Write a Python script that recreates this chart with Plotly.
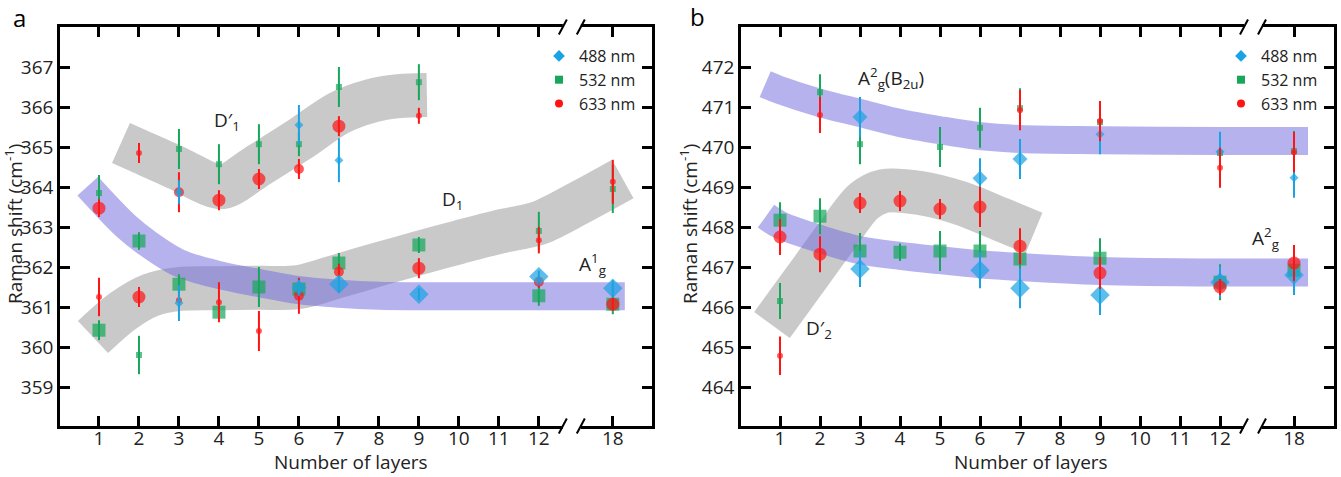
import plotly.graph_objects as go

# ---------------- data ----------------
# x positions of the broken axis: layers 1..12 sit at their own value, 18 sits after the break
layer_ticks = [1, 2, 3, 4, 5, 6, 7, 8, 9, 10, 11, 12, 18]
layer_tick_text = [str(v) for v in layer_ticks]
BROKEN_POS = {18: 13.85}

# Panel a  (modes ~360 cm-1)
a488_layers = [3, 3, 6, 6, 7, 7, 9, 12, 18]
a488_shift = [363.87, 361.10, 365.55, 361.48, 364.67, 361.57, 361.32, 361.76, 361.47]
a488_err = [0.30, 0.45, 0.50, 0.20, 0.55, 0.20, 0.15, 0.15, 0.20]
a488_weight = ["S", "S", "S", "M", "S", "L", "L", "L", "L"]

a532_layers = [1, 1, 2, 2, 3, 3, 4, 4, 5, 5, 6, 6, 7, 7, 9, 9, 12, 12, 18, 18]
a532_shift = [363.85, 360.42, 362.65, 359.80, 364.95, 361.57, 364.57, 360.87, 365.07, 361.50,
              365.07, 361.45, 366.50, 362.10, 366.62, 362.55, 362.90, 361.28, 363.95, 361.07]
a532_err = [0.45, 0.25, 0.22, 0.48, 0.50, 0.25, 0.50, 0.20, 0.50, 0.50,
            0.30, 0.25, 0.50, 0.25, 0.45, 0.20, 0.48, 0.25, 0.60, 0.25]
a532_weight = ["S", "L", "L", "S", "S", "L", "S", "L", "S", "L",
               "S", "L", "S", "L", "S", "L", "S", "L", "S", "L"]

a633_layers = [1, 1, 2, 2, 3, 3, 4, 4, 5, 5, 6, 6, 7, 7, 9, 9, 12, 12, 18, 18]
a633_shift = [363.47, 361.25, 364.85, 361.25, 363.87, 361.17, 363.67, 361.12, 364.20, 360.40,
              364.45, 361.28, 365.52, 361.88, 365.78, 361.97, 362.67, 361.63, 364.13, 361.07]
a633_err = [0.22, 0.48, 0.25, 0.25, 0.50, 0.20, 0.25, 0.50, 0.25, 0.50,
            0.25, 0.45, 0.25, 0.20, 0.20, 0.25, 0.33, 0.15, 0.55, 0.15]
a633_weight = ["L", "S", "S", "L", "M", "S", "L", "S", "L", "S",
               "M", "M", "L", "M", "S", "L", "S", "M", "S", "L"]

# Panel b  (modes ~467 cm-1)
b488_layers = [3, 3, 6, 6, 7, 7, 9, 9, 12, 12, 18, 18]
b488_shift = [470.75, 466.95, 469.22, 466.92, 469.70, 466.47, 470.32, 466.30, 469.88, 466.62, 469.23, 466.80]
b488_err = [0.50, 0.45, 0.50, 0.45, 0.50, 0.50, 0.50, 0.50, 0.50, 0.40, 0.50, 0.50]
b488_weight = ["M", "L", "M", "L", "M", "L", "S", "L", "S", "L", "S", "L"]

b532_layers = [1, 1, 2, 2, 3, 3, 4, 5, 5, 6, 6, 7, 7, 9, 9, 12, 12, 18, 18]
b532_shift = [468.17, 466.15, 471.37, 468.27, 470.07, 467.40, 467.37, 470.00, 467.40, 470.48,
              467.40, 470.97, 467.20, 470.62, 467.22, 469.85, 466.62, 469.90, 466.92]
b532_err = [0.45, 0.45, 0.45, 0.45, 0.50, 0.45, 0.22, 0.50, 0.50, 0.50,
            0.50, 0.50, 0.50, 0.50, 0.50, 0.50, 0.45, 0.50, 0.50]
b532_weight = ["L", "S", "S", "L", "S", "L", "L", "S", "L", "S",
               "L", "S", "L", "S", "L", "S", "L", "S", "L"]

b633_layers = [1, 1, 2, 2, 3, 4, 5, 6, 7, 7, 9, 9, 12, 12, 18, 18]
b633_shift = [467.75, 464.78, 470.80, 467.32, 468.60, 468.65, 468.45, 468.50,
              470.92, 467.52, 470.65, 466.85, 469.48, 466.50, 469.87, 467.10]
b633_err = [0.45, 0.48, 0.45, 0.45, 0.25, 0.25, 0.25, 0.50,
            0.50, 0.45, 0.50, 0.40, 0.50, 0.20, 0.50, 0.45]
b633_weight = ["L", "S", "S", "L", "L", "L", "L", "L",
               "S", "L", "S", "L", "S", "L", "S", "L"]

# guide bands (hand-drawn trend curves), x in axis positions
bandA_A1g_x = [0.72, 1.2, 1.7, 2.2, 3, 4, 5, 6, 7, 8, 9, 14.15]
bandA_A1g_y = [364.02, 363.5, 363.0, 362.6, 362.1, 361.8, 361.6, 361.42, 361.33, 361.28, 361.27, 361.27]
bandA_D1_x = [0.85, 1.6, 2.3, 3, 4, 5, 6, 7, 8, 9, 10, 11, 12, 13, 14.1]
bandA_D1_y = [360.25, 360.9, 361.3, 361.45, 361.47, 361.48, 361.5, 361.78, 362.07, 362.35, 362.62, 362.88, 363.1, 363.6, 364.2]
bandA_D1p_x = [1.55, 2, 3, 3.7, 4.1, 5, 6, 7, 7.8, 8.5, 9.2]
bandA_D1p_y = [365.1, 364.9, 364.45, 364.1, 364.0, 364.55, 365.18, 365.85, 366.15, 366.27, 366.3]

bandB_top_x = [0.63, 1, 2, 3, 4, 5, 6, 7, 9, 12, 14.2]
bandB_top_y = [471.57, 471.42, 471.1, 470.85, 470.6, 470.42, 470.27, 470.2, 470.17, 470.15, 470.15]
bandB_A2g_x = [0.65, 1, 2, 3, 4, 5, 6, 7, 9, 12, 14.2]
bandB_A2g_y = [468.27, 468.05, 467.7, 467.42, 467.28, 467.17, 467.07, 467.0, 466.9, 466.86, 466.86]
bandB_D2p_x = [0.8, 1.6, 2.4, 3.1, 3.6, 4.5, 5.5, 6.5, 7.35]
bandB_D2p_y = [465.55, 466.65, 467.75, 468.65, 468.9, 468.85, 468.6, 468.2, 467.85]

# ---------------- styling ----------------
FONT = "Open Sans"
TXT = "#222222"
C488, C532, C633 = "#1AA3E3", "#16A75A", "#FF1414"
SIZE = {"L": 13, "M": 10, "S": 6}
PURPLE = "rgb(112,104,222)"
GRAY = "rgb(148,148,148)"


def pos(layers):
    return [BROKEN_POS.get(v, v) for v in layers]


fig = go.Figure()


def band(x, y, color, width, xa, ya):
    fig.add_trace(go.Scatter(x=x, y=y, mode="lines", xaxis=xa, yaxis=ya,
                             line=dict(color=color, width=width, shape="spline", smoothing=0.9),
                             opacity=0.5, hoverinfo="skip", showlegend=False))


band(bandA_D1_x, bandA_D1_y, GRAY, 44, "x", "y")
band(bandA_D1p_x, bandA_D1p_y, GRAY, 44, "x", "y")
band(bandA_A1g_x, bandA_A1g_y, PURPLE, 28, "x", "y")
band(bandB_D2p_x, bandB_D2p_y, GRAY, 44, "x2", "y2")
band(bandB_top_x, bandB_top_y, PURPLE, 28, "x2", "y2")
band(bandB_A2g_x, bandB_A2g_y, PURPLE, 28, "x2", "y2")


def series(layers, shift, err, weight, color, symbol, xa, ya):
    fig.add_trace(go.Scatter(
        x=pos(layers), y=shift, mode="markers", xaxis=xa, yaxis=ya,
        marker=dict(color=color, symbol=symbol,
                    size=[SIZE[w] * (1.15 if symbol == "diamond" else 1) for w in weight],
                    line=dict(width=0)),
        error_y=dict(type="data", array=err, color=color, thickness=2, width=0),
        showlegend=False))


series(a532_layers, a532_shift, a532_err, a532_weight, C532, "square", "x", "y")
series(a633_layers, a633_shift, a633_err, a633_weight, C633, "circle", "x", "y")
series(a488_layers, a488_shift, a488_err, a488_weight, C488, "diamond", "x", "y")
series(b532_layers, b532_shift, b532_err, b532_weight, C532, "square", "x2", "y2")
series(b488_layers, b488_shift, b488_err, b488_weight, C488, "diamond", "x2", "y2")
series(b633_layers, b633_shift, b633_err, b633_weight, C633, "circle", "x2", "y2")

# legend entries
for lg, xa, ya in (("legend", "x", "y"), ("legend2", "x2", "y2")):
    for name, color, symbol, sz in (("488 nm", C488, "diamond", 9), ("532 nm", C532, "square", 8),
                                    ("633 nm", C633, "circle", 8)):
        fig.add_trace(go.Scatter(x=[None], y=[None], mode="markers", name=name, xaxis=xa, yaxis=ya,
                                 marker=dict(color=color, symbol=symbol, size=sz), legend=lg))

W, H = 1341, 477
ydom = [1 - 426 / H, 1 - 27 / H]
axis_common = dict(showline=True, linecolor="black", linewidth=2.5, mirror="allticks",
                   ticks="inside", ticklen=10, tickwidth=2.5, tickcolor="black",
                   showgrid=False, zeroline=False,
                   tickfont=dict(family=FONT, size=19, color=TXT))

fig.update_layout(
    width=W, height=H, margin=dict(l=0, r=0, t=0, b=0),
    paper_bgcolor="white", plot_bgcolor="white",
    font=dict(family=FONT, color=TXT),
    xaxis=dict(domain=[60 / W, 652 / W], range=[0.025, 14.83], tickvals=pos(layer_ticks),
               ticktext=layer_tick_text, anchor="y", ticklabelstandoff=-7, **axis_common),
    yaxis=dict(domain=ydom, range=[358.025, 368], tickvals=[359, 360, 361, 362, 363, 364, 365, 366, 367],
               anchor="x", **axis_common),
    xaxis2=dict(domain=[741 / W, 1334 / W], range=[0.025, 14.85], tickvals=pos(layer_ticks),
                ticktext=layer_tick_text, anchor="y2", ticklabelstandoff=-7, **axis_common),
    yaxis2=dict(domain=ydom, range=[463.025, 473], tickvals=[464, 465, 466, 467, 468, 469, 470, 471, 472],
                anchor="x2", **axis_common),
    legend=dict(x=539 / W, y=1 - 39 / H, xanchor="left", yanchor="top", bgcolor="rgba(0,0,0,0)",
                font=dict(family=FONT, size=16, color=TXT), itemwidth=30, tracegroupgap=0),
    legend2=dict(x=1221 / W, y=1 - 39 / H, xanchor="left", yanchor="top", bgcolor="rgba(0,0,0,0)",
                 font=dict(family=FONT, size=16, color=TXT), itemwidth=30, tracegroupgap=0),
)

# axis breaks (// marks) on top and bottom axes
for xa, ya in (("x", "y"), ("x2", "y2")):
    x1, x2 = 12.6, 13.05
    for yd in (0, 1):
        fig.add_shape(type="rect", xref=xa, yref=f"{ya} domain", x0=x1, x1=x2, y0=yd - 0.012, y1=yd + 0.012,
                      fillcolor="white", line=dict(width=0), layer="above")
        for xc in (x1, x2):
            fig.add_shape(type="line", xref=xa, yref=f"{ya} domain", x0=xc - 0.1, x1=xc + 0.1,
                          y0=yd - 0.019, y1=yd + 0.019, line=dict(color="black", width=2), layer="above")

# mode labels
labels = [
    ("x", "y", 4.2, 365.65, "D′<sub>1</sub>"),
    ("x", "y", 9.85, 363.68, "D<sub>1</sub>"),
    ("x", "y", 13.33, 362.08, "A<sup>1</sup><sub>g</sub>"),
    ("x2", "y2", 3.78, 471.72, "A<sup>2</sup><sub>g</sub>(B<sub>2u</sub>)"),
    ("x2", "y2", 1.98, 465.45, "D′<sub>2</sub>"),
    ("x2", "y2", 13.13, 467.72, "A<sup>2</sup><sub>g</sub>"),
]
for xa, ya, x, y, t in labels:
    fig.add_annotation(xref=xa, yref=ya, x=x, y=y, text=t, showarrow=False,
                       font=dict(family=FONT, size=19, color=TXT))

# axis titles
ymid = 1 - 224 / H
for x in (14 / W, 689 / W):
    fig.add_annotation(xref="paper", yref="paper", x=x, y=ymid, xanchor="center", yanchor="middle",
                       text="Raman shift (cm<sup>-1</sup>)", textangle=-90, showarrow=False,
                       font=dict(family=FONT, size=19, color=TXT))
for x in (351 / W, 1031 / W):
    fig.add_annotation(xref="paper", yref="paper", x=x, y=1 - 462 / H, xanchor="center", yanchor="middle",
                       text="Number of layers", showarrow=False,
                       font=dict(family=FONT, size=19, color=TXT))

# panel letters
for x, y, t in ((19 / W, 1 - 18 / H, "a"), (697 / W, 1 - 17 / H, "b")):
    fig.add_annotation(xref="paper", yref="paper", x=x, y=y, xanchor="center", yanchor="middle",
                       text=t, showarrow=False, font=dict(family=FONT, size=24, color="black"))

fig.write_html("out.html")
